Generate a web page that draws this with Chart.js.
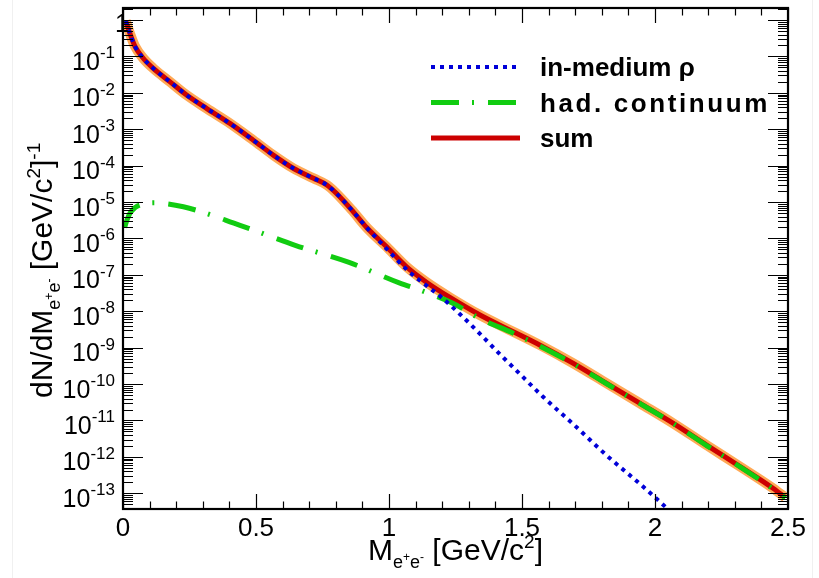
<!DOCTYPE html>
<html>
<head>
<meta charset="utf-8">
<title>dN/dM spectrum</title>
<script src="https://cdn.jsdelivr.net/npm/chart.js@4.4.1/dist/chart.umd.min.js"></script>
<style>
  html, body { margin: 0; padding: 0; background: #fff; }
  #wrap { position: relative; width: 819px; height: 578px; }
  #edge { position: absolute; left: 12px; top: 0; width: 799px; height: 578px;
          border-left: 1px solid #f0f0f0; border-right: 1px solid #f0f0f0; pointer-events: none; }
</style>
</head>
<body>
<div id="wrap">
  <canvas id="spectrum"></canvas>
  <div id="edge"></div>
</div>
<script>
// values (M in GeV/c^2)
const massSum = [0.01, 0.026, 0.045, 0.076, 0.114, 0.177, 0.239, 0.315, 0.402, 0.49, 0.565, 0.64, 0.716, 0.766, 0.80,
  0.866, 0.916, 0.991, 1.066, 1.142, 1.229, 1.342, 1.467, 1.568, 1.693, 1.818, 1.944, 2.069, 2.194, 2.32, 2.445, 2.49];
const sumValues = [0.95, 0.43, 0.19, 0.089, 0.047, 0.020, 8.7e-3, 3.7e-3, 1.45e-3, 5.0e-4, 1.95e-4, 8.5e-5, 4.5e-5, 2.95e-5, 1.8e-5,
  5.4e-6, 2.0e-6, 5.9e-7, 1.66e-7, 6.2e-8, 2.4e-8, 7.9e-9, 2.75e-9, 1.17e-9, 3.7e-10, 1.05e-10, 2.95e-11, 8.3e-12, 2.1e-12, 5.4e-13, 1.35e-13, 7.6e-14];

const massRho = [0.01, 0.026, 0.045, 0.076, 0.114, 0.177, 0.239, 0.315, 0.402, 0.49, 0.565, 0.64, 0.716, 0.766, 0.80,
  0.866, 0.916, 0.991, 1.066, 1.142, 1.192, 1.267, 1.342, 1.417, 1.492, 1.58, 1.693, 1.818, 1.944, 2.05];
const rhoValues = [0.95, 0.43, 0.19, 0.089, 0.047, 0.020, 8.7e-3, 3.7e-3, 1.45e-3, 5.0e-4, 1.95e-4, 8.5e-5, 4.5e-5, 2.95e-5, 1.8e-5,
  5.4e-6, 2.0e-6, 5.2e-7, 1.4e-7, 5.0e-8, 2.6e-8, 8.3e-9, 2.4e-9, 6.6e-10, 1.9e-10, 4.4e-11, 7.9e-12, 1.1e-12, 1.8e-13, 3.6e-14];

const massCont = [0.006, 0.015, 0.026, 0.045, 0.064, 0.114, 0.227, 0.44, 0.65, 0.85, 1.041, 1.117, 1.24, 1.342, 1.467,
  1.568, 1.693, 1.818, 1.944, 2.069, 2.194, 2.32, 2.445, 2.49];
const contValues = [2.0e-6, 3.2e-6, 4.9e-6, 7.0e-6, 8.3e-6, 9.5e-6, 7.4e-6, 2.3e-6, 6.4e-7, 2.2e-7, 5.9e-8, 3.8e-8, 1.66e-8, 6.3e-9, 2.5e-9,
  1.1e-9, 3.6e-10, 1.02e-10, 2.9e-11, 8.2e-12, 2.05e-12, 5.3e-13, 1.3e-13, 7.4e-14];

const xTickValues = [0, 0.5, 1, 1.5, 2, 2.5];
const xTickLabels = ['0', '0.5', '1', '1.5', '2', '2.5'];
const yTickExponents = [0, -1, -2, -3, -4, -5, -6, -7, -8, -9, -10, -11, -12, -13];

const FONT = '"Liberation Sans", Arial, Helvetica, sans-serif';

function pts(xs, ys) {
  return xs.map((x, i) => ({ x: x, y: ys[i] }));
}

// draw a run of text pieces (for sub/superscripts)
function drawRich(ctx, parts, x, y, align, spacing) {
  ctx.letterSpacing = (spacing || 0) + 'px';
  let total = 0;
  parts.forEach(p => {
    ctx.font = (p.bold ? 'bold ' : '') + p.size + 'px ' + FONT;
    p.w = ctx.measureText(p.t).width;
    total += p.w;
  });
  let cx = x;
  if (align === 'center') cx = x - total / 2;
  if (align === 'right') cx = x - total;
  ctx.textAlign = 'left';
  ctx.textBaseline = 'alphabetic';
  parts.forEach(p => {
    ctx.font = (p.bold ? 'bold ' : '') + p.size + 'px ' + FONT;
    ctx.fillText(p.t, cx, y + (p.dy || 0));
    cx += p.w;
  });
  ctx.letterSpacing = '0px';
  return total;
}

const rootFrame = {
  id: 'rootFrame',
  afterDatasetsDraw(chart) {
    const ctx = chart.ctx;
    const a = chart.chartArea;
    const xs = chart.scales.x, ys = chart.scales.y;
    ctx.save();
    ctx.fillStyle = '#000';
    ctx.strokeStyle = '#000';

    // inward ticks, x axis (bottom and top)
    ctx.lineWidth = 1.2;
    ctx.beginPath();
    for (let i = 0; i <= 25; i++) {
      const v = i / 10;
      const px = Math.round(xs.getPixelForValue(v)) + 0.5;
      const len = (i % 5 === 0) ? 15 : 7.5;
      ctx.moveTo(px, a.bottom); ctx.lineTo(px, a.bottom - len);
      ctx.moveTo(px, a.top); ctx.lineTo(px, a.top + len);
    }
    // y axis (left and right), log ticks
    for (let n = -14; n <= 0; n++) {
      for (let k = 1; k <= 9; k++) {
        const v = k * Math.pow(10, n);
        if (v < ys.min || v > ys.max) continue;
        const py = Math.round(ys.getPixelForValue(v)) + 0.5;
        const len = (k === 1) ? 20 : 10;
        ctx.moveTo(a.left, py); ctx.lineTo(a.left + len, py);
        ctx.moveTo(a.right, py); ctx.lineTo(a.right - len, py);
      }
    }
    ctx.stroke();

    // frame
    ctx.lineWidth = 2.2;
    ctx.strokeRect(a.left, a.top, a.right - a.left, a.bottom - a.top);

    // x tick labels
    ctx.textAlign = 'center';
    ctx.textBaseline = 'alphabetic';
    ctx.font = '26px ' + FONT;
    xTickValues.forEach((v, i) => {
      ctx.fillText(xTickLabels[i], xs.getPixelForValue(v), 536);
    });

    // y tick labels 10^n
    yTickExponents.forEach(e => {
      const py = ys.getPixelForValue(Math.pow(10, e));
      if (e === 0) {
        drawRich(ctx, [{ t: '1', size: 25 }], 129, py + 12, 'right');
      } else {
        drawRich(ctx, [{ t: '10', size: 25, dy: 13.5 }, { t: String(e), size: 17, dy: 2 }], 115, py, 'right');
      }
    });

    // x title
    drawRich(ctx, [
      { t: 'M', size: 30 },
      { t: 'e', size: 18, dy: 8 }, { t: '+', size: 12, dy: 1 }, { t: 'e', size: 18, dy: 8 }, { t: '-', size: 12, dy: 1 },
      { t: ' [GeV/c', size: 30 }, { t: '2', size: 19, dy: -12 }, { t: ']', size: 30 }
    ], (a.left + a.right) / 2, 560, 'center');

    // y title (rotated)
    ctx.save();
    ctx.translate(52, 398);
    ctx.rotate(-Math.PI / 2);
    drawRich(ctx, [
      { t: 'dN/dM', size: 30 },
      { t: 'e', size: 18, dy: 8 }, { t: '+', size: 12, dy: 1 }, { t: 'e', size: 18, dy: 8 }, { t: '-', size: 12, dy: 1 },
      { t: ' [GeV/c', size: 30 }, { t: '2', size: 19, dy: -12 }, { t: ']', size: 30 }, { t: '-1', size: 19, dy: -12 }
    ], 0, 0, 'left');
    ctx.restore();

    // legend
    let row = 0;
    chart.data.datasets.forEach(ds => {
      if (!ds.label) return;
      const y = 67 + row * 35.5;
      ctx.save();
      ctx.strokeStyle = ds.borderColor;
      ctx.lineWidth = ds.borderWidth;
      ctx.setLineDash(ds.borderDash || []);
      ctx.lineCap = 'butt';
      ctx.beginPath();
      ctx.moveTo(431, y); ctx.lineTo(520, y);
      ctx.stroke();
      ctx.restore();
      drawRich(ctx, [{ t: ds.label, size: 26, bold: true }], 540, y + 9, 'left', ds.label.length > 12 ? 2.6 : 0);
      row++;
    });

    ctx.restore();
  }
};

const ctxSpec = document.getElementById('spectrum').getContext('2d');

const spectrum = new Chart(ctxSpec, {
  type: 'line',
  data: {
    datasets: [{
      label: 'in-medium ρ',
      data: pts(massRho, rhoValues),
      borderColor: '#0000d8',
      borderWidth: 4,
      borderDash: [4, 5],
      pointRadius: 0,
      cubicInterpolationMode: 'monotone'
    }, {
      label: 'had. continuum',
      data: pts(massCont, contValues),
      borderColor: '#11cc11',
      borderWidth: 5,
      borderDash: [28, 13, 2, 14],
      pointRadius: 0,
      cubicInterpolationMode: 'monotone'
    }, {
      label: 'sum',
      data: pts(massSum, sumValues),
      borderColor: '#cc0000',
      borderWidth: 5,
      pointRadius: 0,
      cubicInterpolationMode: 'monotone'
    }, {
      label: '',
      data: pts(massSum, sumValues),
      borderColor: 'rgba(255,140,30,0.75)',
      borderWidth: 10,
      pointRadius: 0,
      cubicInterpolationMode: 'monotone'
    }]
  },
  options: {
    responsive: true,
    maintainAspectRatio: false,
    animation: false,
    layout: {
      padding: { left: 123, right: 31, top: 8, bottom: 69 }
    },
    scales: {
      x: { type: 'linear', min: 0, max: 2.5, display: false },
      y: { type: 'logarithmic', min: 3.7e-14, max: 2.14, display: false }
    },
    plugins: {
      legend: { display: false },
      tooltip: { enabled: false }
    }
  },
  plugins: [rootFrame]
});
</script>
</body>
</html>
